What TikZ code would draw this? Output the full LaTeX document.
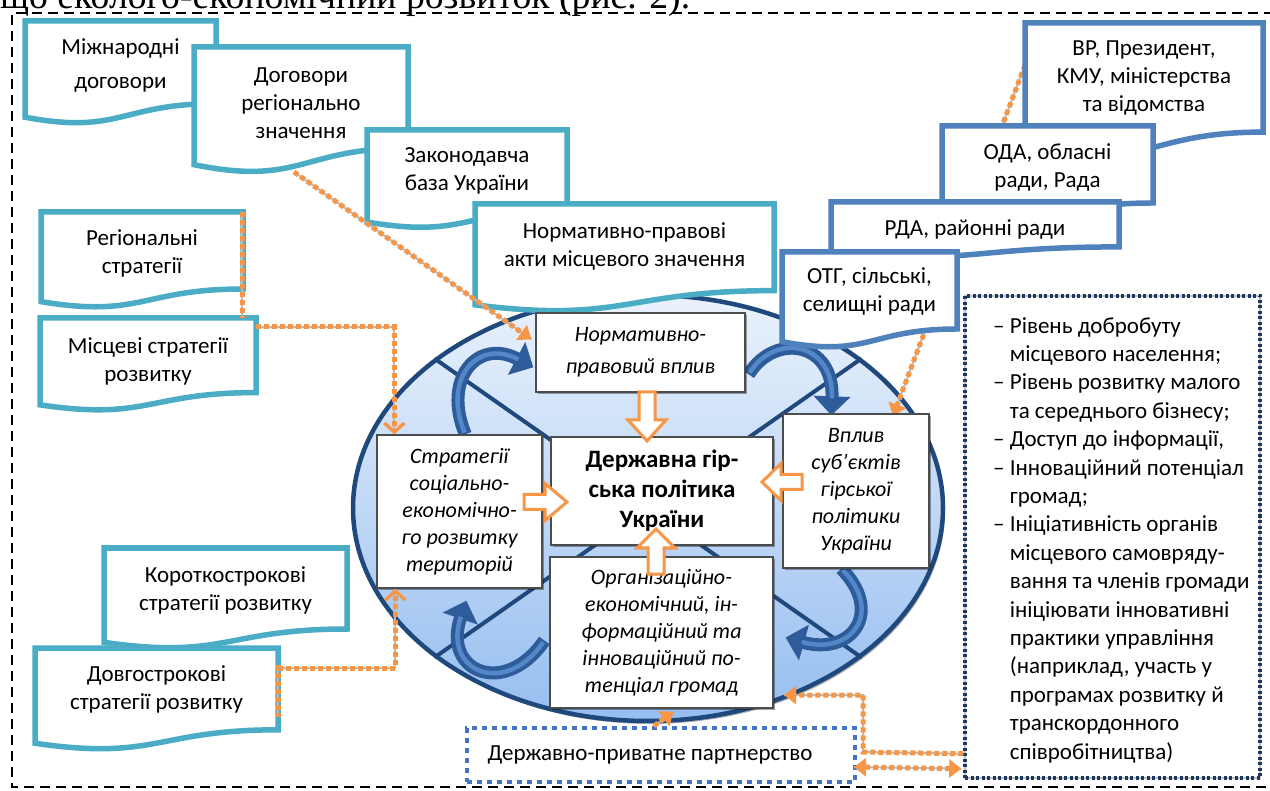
\documentclass[tikz,border=0pt]{standalone}
\usepackage{graphicx}
\usepackage{fontspec}
\setmainfont{Carlito}
\newfontfamily\topserif{Liberation Serif}
\usetikzlibrary{arrows.meta,shapes.geometric,calc,shadows}
\definecolor{cyanb}{RGB}{75,172,198}
\definecolor{blueb}{RGB}{79,129,189}
\definecolor{orng}{RGB}{247,150,70}
\definecolor{navyb}{RGB}{31,56,100}
\definecolor{ellline}{RGB}{31,73,125}
\definecolor{ellTop}{RGB}{234,242,252}
\definecolor{ellBot}{RGB}{150,190,240}
\definecolor{pppblue}{RGB}{68,114,196}
\definecolor{carr}{RGB}{46,92,155}
\definecolor{carrlight}{RGB}{84,135,200}
\pgfdeclarelayer{back}
\pgfdeclarelayer{mid}
\pgfsetlayers{back,mid,main}
\tikzset{
 doctext/.style={align=center, inner sep=0pt, font=\fontsize{23}{28}\selectfont},
 innerbox/.style={draw=black!70, line width=1.3pt, fill=white, align=center, inner sep=0pt,
   font=\fontsize{22}{27}\selectfont\itshape,
   drop shadow={shadow xshift=2pt, shadow yshift=-2pt, opacity=0.35, fill=black}},
 dotconn/.style={draw=orng, line width=5pt, dash pattern=on 5pt off 3pt,
   preaction={draw=gray!55, line width=2pt, solid, arrows=-}},
 otri/.style={-{Triangle[length=12pt,width=18pt]}},
 obarb/.style={-{Straight Barb[length=9pt,width=20pt,line width=3.5pt]}},
 blockarr/.style={draw=orng, line width=3pt, fill=white, line join=miter},
 curvearr/.style={draw=carr, line width=13pt, -{Triangle[length=19pt,width=36pt]},
   postaction={draw=carrlight, line width=4.5pt, arrows=-, shorten >=17pt, shorten <=2pt}},
 xline/.style={draw=ellline, line width=4pt},
}
% #1 name, #2 x1, #3 y1, #4 x2, #5 h, #6 colour, #7 text centre y, #8 text
\newcommand\mydoc[8]{%
 \draw[line width=5.5pt,#6,fill=white,line join=miter] (#2,#3) -- (#4,#3) -- (#4,{#3+0.802*#5})
   .. controls ({(#2+#4)/2},{#3+0.802*#5}) and ({(#2+#4)/2},{#3+1.107*#5}) .. (#2,{#3+0.934*#5}) -- cycle;
 \node[doctext] (#1) at ({(#2+#4)/2},#7) {#8};}
\begin{document}
\begin{tikzpicture}[x=1pt,y=-1pt]
\useasboundingbox (0,0) rectangle (1270,791);
\clip (0,0) rectangle (1270,791);
% cut-off line of text above the figure
\node[anchor=base west, inner sep=0pt, font=\topserif] (toptext) at (0,9) {\resizebox{690pt}{!}{що еколого-економічний розвиток (рис. 2).}};
% outer dashed frame
\draw[black, line width=1.3pt, dash pattern=on 10pt off 6pt] (1290,13) -- (12,13) -- (12,787) -- (1290,787);

% globe
\begin{pgfonlayer}{back}
\fill[white] (0,0) rectangle (1270,791);
\node[ellipse, minimum width=590pt, minimum height=426pt, inner sep=0pt, draw=ellline, line width=4.5pt,
  top color=ellTop, bottom color=ellBot,
  drop shadow={shadow xshift=2pt, shadow yshift=-3pt, opacity=0.3, fill=black}] (globe) at (648,508) {};
\draw[xline] (globe.145) -- (globe.-35);
\draw[xline] (globe.35) -- (globe.215);
\end{pgfonlayer}

% connector from the top authorities to "Вплив" (passes under the boxes)
\coordinate (bS) at (1025,65);
\coordinate (bE) at (893,416);
\draw[dotconn, otri] (bS) -- (bE);

% documents, left cascade
\mydoc{intl}{25}{21}{216}{103}{cyanb}{65}{Міжнародні\\[6pt]договори}
\mydoc{regdog}{194}{47}{408}{126}{cyanb}{103}{Договори\\регіонально\\значення}
\mydoc{zakon}{367}{130}{567}{98.5}{cyanb}{171}{Законодавча\\база України}
\mydoc{normakt}{475}{204}{774}{108}{cyanb}{246.5}{Нормативно-правові\\акти місцевого значення}
\mydoc{regstr}{41}{212}{243}{96}{cyanb}{253}{Регіональні\\стратегії}
\mydoc{miscstr}{40}{318}{256}{93}{cyanb}{361}{Місцеві стратегії\\розвитку}
\mydoc{korot}{104}{548}{347}{101}{cyanb}{590}{Короткострокові\\стратегії розвитку}
\mydoc{dovh}{35}{648}{278}{102}{cyanb}{689}{Довгострокові\\стратегії розвитку}
% documents, right cascade
\mydoc{vr}{1025}{23}{1263}{136}{blueb}{78.5}{ВР, Президент,\\КМУ, міністерства\\та відомства}
\mydoc{oda}{942}{126}{1153}{96}{blueb}{167.5}{ОДА, обласні\\ради, Рада}
\mydoc{rda}{831}{202}{1119}{56}{blueb}{229}{РДА, районні ради}
\mydoc{otg}{782}{252}{957}{96}{blueb}{291.5}{ОТГ, сільські,\\селищні ради}

% inner boxes
\node[innerbox, minimum width=209pt, minimum height=79pt, font=\fontsize{22}{32}\selectfont\itshape] (norm) at (640.5,352.5) {Нормативно-\\правовий вплив};
\node[innerbox, minimum width=222pt, minimum height=108pt, font=\fontsize{25}{30}\selectfont\bfseries] (center) at (662,491) {Державна гір-\\ська політика\\України};
\node[innerbox, minimum width=165pt, minimum height=153pt] (strat) at (459.5,511.5) {Стратегії\\соціально-\\економічно-\\го розвитку\\територій};
\node[innerbox, minimum width=146pt, minimum height=154pt] (vplyv) at (856,491) {Вплив\\суб’єктів\\гірської\\політики\\України};
\node[innerbox, minimum width=223pt, minimum height=151pt] (org) at (661.5,632.5) {Організаційно-\\економічний, ін-\\формаційний та\\інноваційний по-\\тенціал громад};

% curved blue arrows
\begin{pgfonlayer}{mid}
\draw[curvearr] ($(strat.north west)+(89,0)$) .. controls (442,378) and (478,338) .. ($(norm.north west)+(-2,55)$);
\draw[curvearr] ($(norm.north east)+(3,62)$) .. controls (775,332) and (834,342) .. ($(vplyv.north west)+(49,2)$);
\draw[curvearr] ($(vplyv.south west)+(59,0)$) .. controls (884,612) and (852,656) .. ($(org.east)+(12,5)$);
\draw[curvearr] ($(org.west)+(-5,8)$) .. controls (505,698) and (442,672) .. ($(strat.south west)+(90,12)$);
\end{pgfonlayer}

% orange dotted connectors
\coordinate (aS) at (294,172);
\draw[dotconn, otri] (aS) -- ($(norm.north west)+(-4,27)$);
\coordinate (cS) at (242,212);
\coordinate (cE) at (242,318);
\draw[dotconn] (cS) -- (cE);
\draw[dotconn, obarb] (256,327) -| ($(strat.north west)+(18,0)$);
\coordinate (eS) at (278,665);
\coordinate (eE) at (278,717);
\draw[dotconn] (eS) -- (eE);
\draw[dotconn, obarb] (278,668) -| ($(strat.south west)+(19,0)$);

% hollow orange block arrows
\draw[blockarr] (639,392)--(655,392)--(655,420)--(666,420)--(647,441)--(628,420)--(639,420)--cycle;
\draw[blockarr] (524,494.5)--(545,494.5)--(545,483.5)--(567,502)--(545,520.5)--(545,509.5)--(524,509.5)--cycle;
\draw[blockarr] (802,474.5)--(781,474.5)--(781,463.5)--(762,482)--(781,500.5)--(781,489.5)--(802,489.5)--cycle;
\draw[blockarr] (648,574)--(648,548)--(637,548)--(656,529)--(675,548)--(664,548)--(664,574)--cycle;

% right dotted box with criteria
\node[draw=navyb, line width=3.5pt, dash pattern=on 3pt off 2.5pt, minimum width=295pt, minimum height=482pt, inner sep=0pt,
  preaction={draw=gray!50, line width=1.2pt, solid}] (critbox) at (1112.5,537) {};
\node[anchor=north west, align=left, inner sep=0pt, font=\fontsize{23}{28.4}\selectfont] (crit) at (993,317) {%
– Рівень добробуту\\
\phantom{– }місцевого населення;\\
– Рівень розвитку малого\\
\phantom{– }та середнього бізнесу;\\
– Доступ до інформації,\\
– Інноваційний потенціал\\
\phantom{– }громад;\\
– Ініціативність органів\\
\phantom{– }місцевого самовряду-\\
\phantom{– }вання та членів громади\\
\phantom{– }ініціювати інновативні\\
\phantom{– }практики управління\\
\phantom{– }(наприклад, участь у\\
\phantom{– }програмах розвитку й\\
\phantom{– }транскордонного\\
\phantom{– }співробітництва)};

% public-private partnership box
\node[draw=pppblue, line width=4pt, dash pattern=on 5pt off 5pt, minimum width=388pt, minimum height=54pt, inner sep=0pt,
  font=\fontsize{23}{28}\selectfont] (ppp) at (661,755) {\hspace*{-22pt}Державно-приватне партнерство};

\draw[dotconn, otri] ($(critbox.south west)+(0,-26)$) -- (863,752) -- (863,695) -- (784,695);
\draw[dotconn, {Triangle[length=12pt,width=18pt]}-{Triangle[length=12pt,width=18pt]}] ($(ppp.east)+(-3,12)$) -- ($(critbox.south west)+(-2,-11)$);
\draw[dotconn, otri] ($(ppp.north)+(-7,0)$) -- ($(org.south)+(12,3)$);
\end{tikzpicture}
\end{document}
